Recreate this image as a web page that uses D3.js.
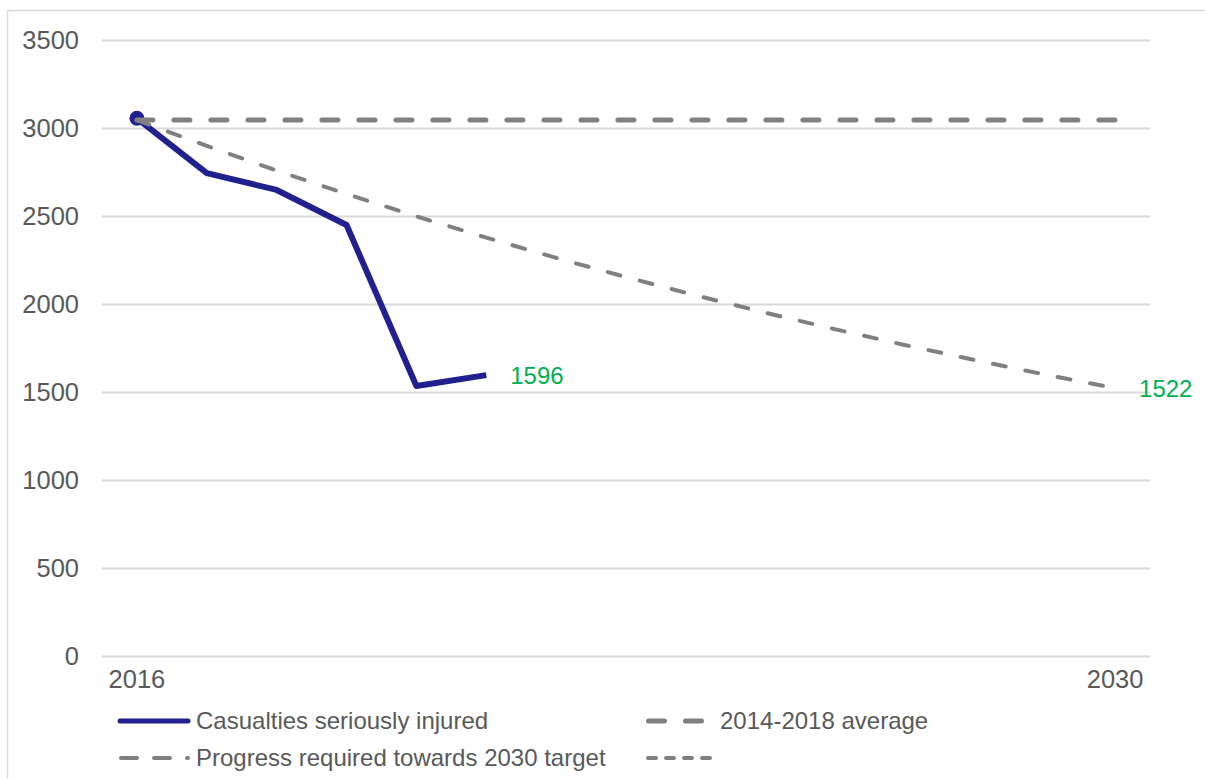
<!DOCTYPE html>
<html>
<head>
<meta charset="utf-8">
<script src="https://cdn.jsdelivr.net/npm/d3@7"></script>
<style>
  html, body { margin: 0; padding: 0; background: #ffffff; }
  svg { display: block; font-family: "Liberation Sans", Arial, sans-serif; }
</style>
</head>
<body>
<svg id="chart" width="1205" height="779"></svg>
<script>
// ---- data ----
const years = [2016, 2017, 2018, 2019, 2020, 2021, 2022, 2023, 2024, 2025, 2026, 2027, 2028, 2029, 2030];
const xTickLabels = ["2016", "2030"];
const yTicks = [0, 500, 1000, 1500, 2000, 2500, 3000, 3500];

const seriousYears = [2016, 2017, 2018, 2019, 2020, 2021];
const seriousValues = [3055, 2744, 2648, 2449, 1534, 1596];

const averageYears = [2016, 2030];
const averageValues = [3045, 3045];

const progressYears = years;
const progressValues = [3045, 2898, 2758, 2625, 2498, 2377, 2262, 2153, 2049, 1950, 1856, 1766, 1681, 1599, 1522];

const legendNames = ["Casualties seriously injured", "2014-2018 average", "Progress required towards 2030 target", ""];

// ---- layout ----
const svg = d3.select("#chart");
const plot = { left: 102, right: 1150, top: 40, bottom: 656 };
const blue = "#20208f", grey = "#808080", green = "#00b050", textGrey = "#595959", gridGrey = "#d9d9d9";

// outer border
svg.append("rect").attr("x", 7.5).attr("y", 10.5).attr("width", 1300).attr("height", 900)
  .attr("fill", "none").attr("stroke", gridGrey).attr("stroke-width", 1.5);

const x = d3.scaleBand().domain(years).range([plot.left, plot.right]);
const xc = d => x(d) + x.bandwidth() / 2;
const y = d3.scaleLinear().domain([0, 3500]).range([plot.bottom, plot.top]);

// gridlines
const yAxis = d3.axisLeft(y).tickValues(yTicks).tickSize(-(plot.right - plot.left)).tickPadding(23).tickFormat(d3.format("d"));
const gy = svg.append("g").attr("transform", `translate(${plot.left},0)`).call(yAxis);
gy.select(".domain").remove();
gy.selectAll(".tick line").attr("stroke", gridGrey).attr("stroke-width", 2);
gy.selectAll(".tick text").attr("fill", textGrey).style("font-size", "25.5px");

// x axis labels
const xAxis = d3.axisBottom(x).tickValues(years.filter(yr => xTickLabels.includes(String(yr)))).tickSize(0).tickPadding(14);
const gx = svg.append("g").attr("transform", `translate(0,${plot.bottom})`).call(xAxis);
gx.select(".domain").remove();
gx.selectAll(".tick text").attr("fill", textGrey).style("font-size", "25.5px");

// series
const line = d3.line().x(d => xc(d[0])).y(d => y(d[1]));

svg.append("path").datum(d3.zip(seriousYears, seriousValues)).attr("d", line)
  .attr("fill", "none").attr("stroke", blue).attr("stroke-width", 6).attr("stroke-linejoin", "round");
svg.append("circle").attr("cx", xc(seriousYears[0])).attr("cy", y(seriousValues[0])).attr("r", 7.5).attr("fill", blue);

svg.append("path").datum(d3.zip(averageYears, averageValues)).attr("d", line)
  .attr("fill", "none").attr("stroke", grey).attr("stroke-width", 5)
  .attr("stroke-dasharray", "16,21").attr("stroke-linecap", "round");

svg.append("path").datum(d3.zip(progressYears, progressValues)).attr("d", line)
  .attr("fill", "none").attr("stroke", grey).attr("stroke-width", 4)
  .attr("stroke-dasharray", "13,20").attr("stroke-linecap", "round");

// data labels
const lastS = seriousYears.length - 1;
svg.append("text").attr("x", xc(seriousYears[lastS]) + 24).attr("y", y(seriousValues[lastS]))
  .attr("dy", "0.35em").attr("fill", green).style("font-size", "24px").text(seriousValues[lastS]);
const lastP = progressYears.length - 1;
svg.append("text").attr("x", xc(progressYears[lastP]) + 24).attr("y", y(progressValues[lastP]))
  .attr("dy", "0.35em").attr("fill", green).style("font-size", "24px").text(progressValues[lastP]);

// legend
const legendItems = [
  { name: legendNames[0], x: 120, y: 721, stroke: blue, width: 5, dash: null, len: 68 },
  { name: legendNames[1], x: 648.5, y: 721, stroke: grey, width: 5, dash: "16,21", len: 64 },
  { name: legendNames[2], x: 121, y: 758, stroke: grey, width: 4, dash: "16,17", len: 67 },
  { name: legendNames[3], x: 648, y: 758, stroke: grey, width: 4, dash: "8,10", len: 64 }
];
const lg = svg.append("g");
legendItems.forEach(it => {
  const l = lg.append("line").attr("x1", it.x).attr("x2", it.x + it.len).attr("y1", it.y).attr("y2", it.y)
    .attr("stroke", it.stroke).attr("stroke-width", it.width).attr("stroke-linecap", "round");
  if (it.dash) l.attr("stroke-dasharray", it.dash);
  if (it.name) {
    lg.append("text").attr("x", it.x < 300 ? 196 : 720).attr("y", it.y).attr("dy", "0.35em")
      .attr("fill", textGrey).style("font-size", "24px").text(it.name);
  }
});
</script>
</body>
</html>
